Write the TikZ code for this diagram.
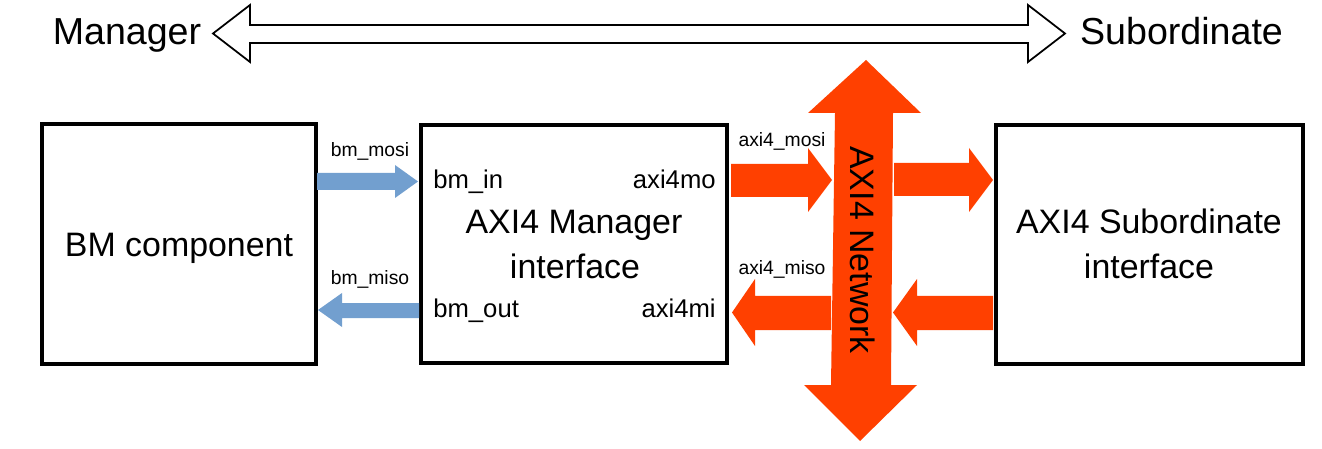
\documentclass[tikz,border=0pt]{standalone}
\usepackage{fontspec}
\setmainfont{Liberation Sans}
\definecolor{netorange}{HTML}{FF4000}
\definecolor{bmblue}{HTML}{729FCF}
\begin{document}
\begin{tikzpicture}[x=0.02cm,y=-0.02cm,
  box/.style={draw=black,line width=2.3pt,rectangle,inner sep=0pt},
  lbl/.style={inner sep=0pt,text=black},
  huge/.style={lbl,font=\fontsize{21.4}{25}\selectfont},
  big/.style={lbl,font=\fontsize{19.3}{23}\selectfont},
  port/.style={lbl,font=\fontsize{14.6}{17}\selectfont},
  sig/.style={lbl,font=\fontsize{11}{13}\selectfont},
  bluearrow/.style={fill=bmblue,draw=none},
  orangearrow/.style={fill=netorange,draw=none},
  hollowarrow/.style={draw=black,line width=1pt,fill=white,line join=miter}]
\useasboundingbox (0,0) rectangle (1322,449);

% top direction arrow
\draw[hollowarrow] (213,33.5) -- (250,5) -- (250,25) -- (1028,25) -- (1028,5)
  -- (1065,33.5) -- (1028,62) -- (1028,43) -- (250,43) -- (250,62) -- cycle;
\node[huge,anchor=base] (manager) at (127,45) {Manager};
\node[huge,anchor=base] (subordinate) at (1181.5,45) {Subordinate};

% boxes
\node[box,minimum width=5.48cm,minimum height=4.8cm] (bm) at (179,244) {};
\node[box,minimum width=6.12cm,minimum height=4.76cm] (mgr) at (574,244) {};
\node[box,minimum width=6.14cm,minimum height=4.78cm] (sub) at (1149.5,244.5) {};

\node[big,anchor=base] (bmtext) at (179,256) {BM component};
\node[big,anchor=base] (mgrtext1) at (574,234) {AXI4 Manager};
\node[big,anchor=base] (mgrtext2) at (575,278) {interface};
\node[big,anchor=base] (subtext1) at (1149,234) {AXI4 Subordinate};
\node[big,anchor=base] (subtext2) at (1149,278) {interface};

\node[port,anchor=base west] (bmin) at (433,189) {bm\_in};
\node[port,anchor=base east] (axi4mo) at (716,189) {axi4mo};
\node[port,anchor=base west] (bmout) at (433,317) {bm\_out};
\node[port,anchor=base east] (axi4mi) at (716,317) {axi4mi};

% blue arrows
\fill[bluearrow] (317,173) -- (395,173) -- (395,165) -- (418,181.5) -- (395,198)
  -- (395,190) -- (317,190) -- cycle;
\fill[bluearrow] (419,303) -- (342,303) -- (342,293) -- (318,310) -- (342,327)
  -- (342,318) -- (419,318) -- cycle;
\node[sig,anchor=base] (bmmosi) at (370,157) {bm\_mosi};
\node[sig,anchor=base] (bmmiso) at (370,285) {bm\_miso};

% network arrow
\fill[orangearrow] (866,60) -- (921,113) -- (893,113) -- (891,385) -- (917,385)
  -- (860,441) -- (804,385) -- (831,385) -- (835,113) -- (808,113) -- cycle;
\node[big,anchor=base,rotate=-90] (net) at (850,250) {AXI4 Network};

% orange side arrows
\fill[orangearrow] (731,164) -- (808,164) -- (808,148) -- (832,180) -- (808,212)
  -- (808,197) -- (731,197) -- cycle;
\fill[orangearrow] (894,163) -- (969,163) -- (969,148) -- (993,180) -- (969,212)
  -- (969,196) -- (894,196) -- cycle;
\fill[orangearrow] (831,296) -- (755,296) -- (755,279) -- (732,312.5) -- (755,346)
  -- (755,330) -- (831,330) -- cycle;
\fill[orangearrow] (993,296) -- (917,296) -- (917,279) -- (893,312.5) -- (917,346)
  -- (917,330) -- (993,330) -- cycle;
\node[sig,anchor=base] (axmosi) at (782,147) {axi4\_mosi};
\node[sig,anchor=base] (axmiso) at (782,275) {axi4\_miso};
\end{tikzpicture}
\end{document}
